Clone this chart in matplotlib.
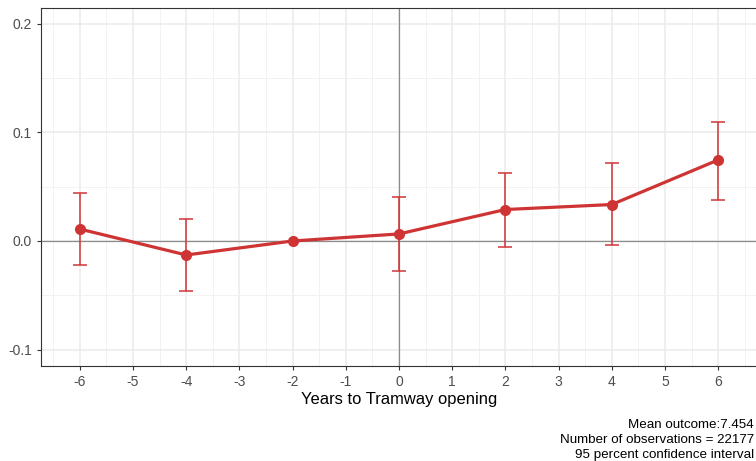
import matplotlib.pyplot as plt
import numpy as np

plt.rcParams['font.family'] = ['Liberation Sans', 'DejaVu Sans']

# event-study estimates
years = [-6, -4, -2, 0, 2, 4, 6]
estimate = [0.011, -0.0129, 0.0, 0.0065, 0.029, 0.0336, 0.0747]
ci_low = [-0.0221, -0.0461, 0.0, -0.0277, -0.0055, -0.0041, 0.0382]
ci_high = [0.0442, 0.0203, 0.0, 0.0405, 0.063, 0.0719, 0.1097]

x_ticks = list(range(-6, 7))
y_ticks = [-0.1, 0.0, 0.1, 0.2]
y_tick_labels = ['-0.1', '0.0', '0.1', '0.2']
caption = ['Mean outcome:7.454', 'Number of observations = 22177', '95 percent confidence interval']

red = '#CF3434'

fig = plt.figure(figsize=(7.56, 4.61), dpi=100)
W, H = 756, 461
ax = fig.add_axes([41 / W, 1 - 366 / H, 716 / W, 358 / H])

# grid (ggplot theme_bw look)
for v in np.arange(-6.5, 7, 1.0):
    ax.axvline(v, color='#F2F2F2', lw=0.7, zorder=0)
for v in x_ticks:
    ax.axvline(v, color='#EBEBEB', lw=1.1, zorder=0)
for v in [-0.05, 0.05, 0.15]:
    ax.axhline(v, color='#F2F2F2', lw=0.7, zorder=0)
for v in y_ticks:
    ax.axhline(v, color='#EBEBEB', lw=1.1, zorder=0)

ax.axhline(0, color='#8C8C8C', lw=0.9, zorder=1)
ax.axvline(0, color='#8C8C8C', lw=0.9, zorder=1)

est = np.array(estimate)
yerr = [est - np.array(ci_low), np.array(ci_high) - est]
has_ci = [lo != hi for lo, hi in zip(ci_low, ci_high)]
xs_ci = [x for x, h in zip(years, has_ci) if h]
ax.errorbar(xs_ci, est[has_ci], yerr=[yerr[0][has_ci], yerr[1][has_ci]],
            fmt='none', ecolor=red, elinewidth=1.1, capsize=5, capthick=1.1, zorder=2)
ax.plot(years, estimate, color=red, lw=2.3, marker='o', markersize=7, zorder=3)

ax.set_xlim(-6.73, 6.73)
ax.set_ylim(-0.1152, 0.2147)
ax.set_xticks(x_ticks)
ax.set_xticklabels([str(x) for x in x_ticks])
ax.set_yticks(y_ticks)
ax.set_yticklabels(y_tick_labels)
ax.tick_params(colors='#333333', labelcolor='#4D4D4D', labelsize=10, length=3, width=0.8)
for s in ax.spines.values():
    s.set_color('#333333')
    s.set_linewidth(0.8)

ax.set_xlabel('Years to Tramway opening', fontsize=11.9, color='black', labelpad=2)

for i, line in enumerate(caption):
    fig.text(754 / W, 1 - (428 + i * 15) / H, line, ha='right', va='baseline',
             fontsize=9.6, color='black')

fig.savefig('out.png', dpi=100)
